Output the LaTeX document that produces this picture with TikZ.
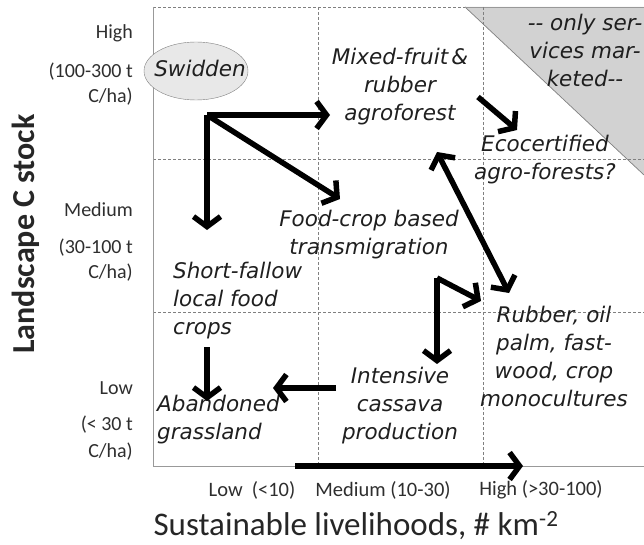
\documentclass[tikz,border=0pt]{standalone}
\usepackage{fontspec}
\setmainfont{Carlito}
\newfontfamily\hand{DejaVu Sans}
\usetikzlibrary{arrows.meta,shapes.geometric}
\tikzset{
  lbl/.style={font=\fontsize{20}{22}\selectfont, anchor=east, inner sep=0pt, text=black!82},
  xlbl/.style={font=\fontsize{20.5}{22}\selectfont, inner sep=0pt, text=black!82},
  hw/.style={font=\hand\itshape\fontsize{21.5}{28}\selectfont, align=center, inner sep=0pt, text=black!88},
  hwl/.style={hw, align=left},
  grid/.style={gray, densely dashed, line width=0.6pt},
  frame/.style={gray!80, line width=0.8pt},
  arr/.style={line width=5.5pt, -{Straight Barb[length=10pt,width=27pt]}},
  darr/.style={line width=5.5pt, {Straight Barb[length=10pt,width=27pt]}-{Straight Barb[length=10pt,width=27pt]}},
}
\begin{document}
\begin{tikzpicture}[x=1pt,y=-1pt]
\useasboundingbox (0,0) rectangle (644,545);
% triangle
\fill[gray!35] (465,7) -- (644,7) -- (644,175) -- cycle;
\draw[gray, line width=0.7pt] (465,7) -- (644,175);
% grid
\draw[grid] (153,7) -- (465,7);
\draw[frame] (465,7) -- (644,7);
\draw[grid] (318,7) -- (318,466);
\draw[grid] (483,7) -- (483,466);
\draw[grid] (153,159) -- (644,159);
\draw[grid] (153,312) -- (644,312);
\draw[frame] (153,7) -- (153,466) -- (644,466);
% y labels
\node[lbl] (yh1) at (133,33) {High};
\node[lbl] (yh2) at (133,72) {(100-300 t};
\node[lbl] (yh3) at (133,97) {C/ha)};
\node[lbl] (ym1) at (133,210) {Medium};
\node[lbl] (ym2) at (133,248) {(30-100 t};
\node[lbl] (ym3) at (133,273) {C/ha)};
\node[lbl] (yl1) at (133,388) {Low};
\node[lbl] (yl2) at (133,425) {(< 30 t};
\node[lbl] (yl3) at (133,452) {C/ha)};
\node[font=\bfseries\fontsize{32}{34}\selectfont, rotate=90, text=black!85] (ytitle) at (26,234) {Landscape C stock};
% x labels
\node[xlbl] (xl) at (252,490) {Low\ \ (<10)};
\node[xlbl] (xm) at (383,490) {Medium (10-30)};
\node[xlbl] (xh) at (541,490) {High (>30-100)};
\node[font=\fontsize{33}{36}\selectfont, text=black!85] (xtitle) at (356,526) {Sustainable livelihoods, \# km\textsuperscript{-2}};
% italic texts
\node[draw=gray, fill=gray!18, ellipse, minimum width=104pt, minimum height=58pt, inner sep=0pt] (swe) at (196,71) {};
\node[hw] (sw) at (200,68) {Swidden};
\node[hw] (mix) at (400,87) {Mixed-fruit\hspace{0.15em}\&\\rubber\\agroforest};
\node[hw] (srv) at (585,50) {-- only ser-\\vices mar-\\keted--};
\node[hw] (eco) at (545,160) {Ecocertified\\agro-forests?};
\node[hw] (food) at (369,235) {Food-crop based\\transmigration};
\node[hwl, anchor=west] (sf) at (173,301) {Short-fallow\\local food\\crops};
\node[hw] (int) at (400,406) {Intensive\\cassava\\production};
\node[hw] (rub) at (554,356) {Rubber, oil\\palm, fast-\\wood, crop\\monocultures};
\node[hwl, anchor=west] (ab) at (157,420) {Abandoned\\grassland};
% arrow points
\coordinate (c1) at (207,115);
\coordinate (c1r) at (330,115);
\coordinate (c1d) at (207,230);
\coordinate (c1s) at (340,199);
\coordinate (e1) at (478,97);
\coordinate (e2) at (517,130);
\coordinate (d1) at (437,152);
\coordinate (d2) at (509,293);
\coordinate (t1) at (437,278);
\coordinate (t2) at (437,364);
\coordinate (t3) at (481,301);
\coordinate (i1) at (336,388);
\coordinate (i2) at (273,388);
\coordinate (s1) at (207,347);
\coordinate (s2) at (207,401);
\coordinate (b1) at (295,466);
\coordinate (b2) at (523,466);
\draw[arr] (c1) -- (c1r);
\draw[arr] (c1) -- (c1d);
\draw[arr] (c1) -- (c1s);
\draw[arr] (e1) -- (e2);
\draw[darr] (d1) -- (d2);
\draw[arr] (t1) -- (t2);
\draw[arr] (t1) -- (t3);
\draw[arr] (i1) -- (i2);
\draw[arr] (s1) -- (s2);
\draw[arr] (b1) -- (b2);
\end{tikzpicture}
\end{document}
